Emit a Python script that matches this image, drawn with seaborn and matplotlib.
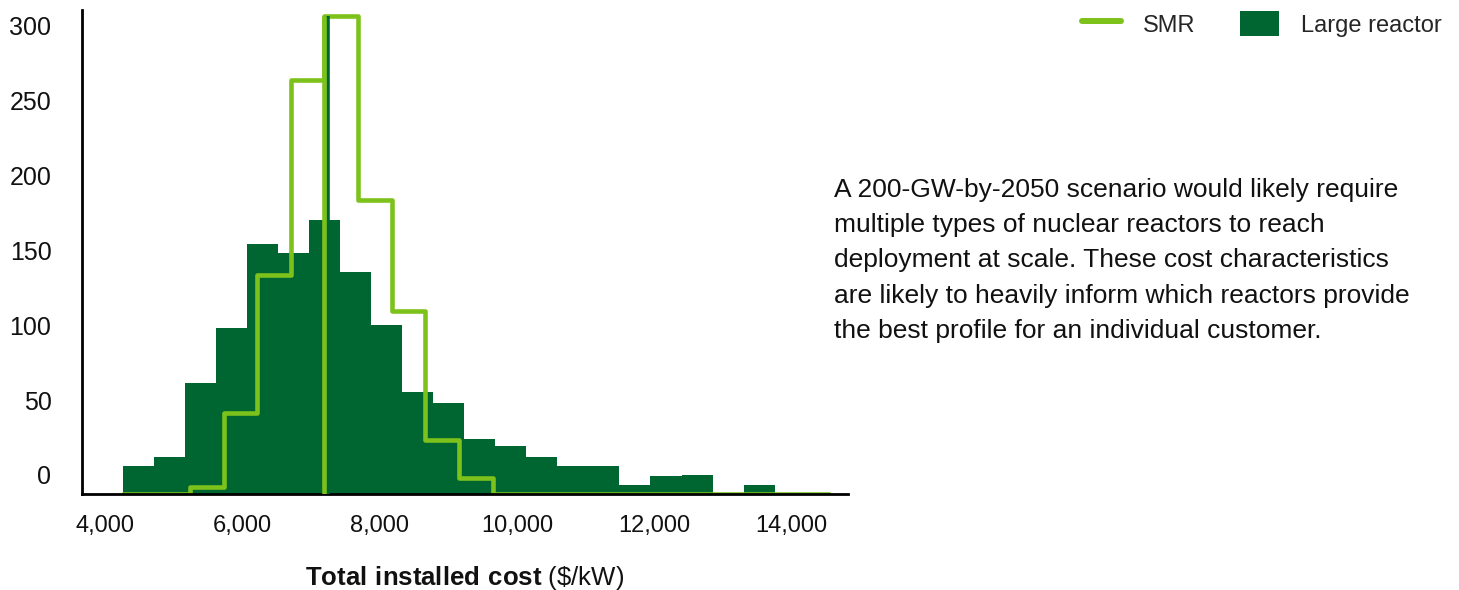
import matplotlib
matplotlib.use("Agg")
import matplotlib.pyplot as plt
import matplotlib.transforms as mtransforms
from matplotlib.lines import Line2D
from matplotlib.patches import Patch
import numpy as np
import pandas as pd
import seaborn as sns

# counts per cost bin
large_counts = [19, 25, 74, 111, 167, 161, 183, 148, 113, 68, 61,
                37, 32, 25, 19, 19, 6, 12, 13, 0, 6]
smr_counts = [0, 0, 5, 54, 146, 276, 319, 196, 122, 36, 11,
              0, 0, 0, 0, 0, 0, 0, 0, 0, 0]

# bin geometry ($/kW): both series use 21 equal bins over their own range
large_start, large_width = 4260, 452
smr_start, smr_width = 4260, 489.5

# vertical reference lines ($/kW)
smr_mark = 7197
large_mark = 7244

x_ticks = [4000, 6000, 8000, 10000, 12000, 14000]
x_tick_labels = ["4,000", "6,000", "8,000", "10,000", "12,000", "14,000"]
y_ticks = [0, 50, 100, 150, 200, 250, 300]

note_lines = [
    "A 200-GW-by-2050 scenario would likely require",
    "multiple types of nuclear reactors to reach",
    "deployment at scale. These cost characteristics",
    "are likely to heavily inform which reactors provide",
    "the best profile for an individual customer.",
]

DARK = "#006631"
LIGHT = "#7DC21B"
INK = "#111111"

sns.set_style("white")
plt.rcParams["font.family"] = ["Liberation Sans", "DejaVu Sans"]
plt.rcParams["mathtext.fontset"] = "custom"
plt.rcParams["mathtext.rm"] = "Liberation Sans"
plt.rcParams["mathtext.bf"] = "Liberation Sans:bold"

W, H = 1459, 590
fig = plt.figure(figsize=(W / 100, H / 100), dpi=100)
ax = fig.add_axes([82 / W, (H - 494) / H, (848 - 82) / W, (494 - 10) / H])

large_edges = large_start + large_width * np.arange(len(large_counts) + 1)
smr_edges = smr_start + smr_width * np.arange(len(smr_counts) + 1)
large_df = pd.DataFrame({"cost": (large_edges[:-1] + large_edges[1:]) / 2,
                         "count": large_counts})
smr_df = pd.DataFrame({"cost": (smr_edges[:-1] + smr_edges[1:]) / 2,
                       "count": smr_counts})

sns.histplot(data=large_df, x="cost", weights="count", bins=list(large_edges),
             element="bars", fill=True, color=DARK, alpha=1, linewidth=0, ax=ax)
sns.histplot(data=smr_df, x="cost", weights="count", bins=list(smr_edges),
             element="step", fill=False, color=LIGHT, linewidth=3.3, ax=ax)

peak = max(smr_counts)
ax.vlines([large_mark], 0, peak, color=DARK, linewidth=2.6, zorder=3)
ax.vlines([smr_mark], 0, peak, color=LIGHT, linewidth=3.3, zorder=4)

ax.set_xlim(3667, 14820)
ax.set_ylim(0, 322.7)
ax.set_xticks(x_ticks)
ax.set_xticklabels(x_tick_labels)
ax.set_yticks(y_ticks)
ax.tick_params(axis="both", length=0, colors=INK)
ax.tick_params(axis="x", pad=15, labelsize=17)
ax.tick_params(axis="y", pad=22, labelsize=18)

# y labels sit a bit above their gridline positions in the original
offset = mtransforms.ScaledTranslation(0, 19 / 100, fig.dpi_scale_trans)
for lbl in ax.get_yticklabels():
    lbl.set_transform(lbl.get_transform() + offset)

ax.set_ylabel("")
ax.set_xlabel(r"$\bf{Total\ installed\ cost}$ (\$/kW)", fontsize=18.5,
              color=INK, va="center")
ax.xaxis.set_label_coords(0.5, (494 - 578) / 484)

sns.despine(ax=ax)
for side in ["left", "bottom"]:
    ax.spines[side].set_linewidth(2)
    ax.spines[side].set_color("black")

handles = [Line2D([0], [0], color=LIGHT, linewidth=4.3),
           Patch(facecolor=DARK, edgecolor="none")]
fig.legend(handles, ["SMR", "Large reactor"], ncol=2, frameon=False,
           loc="center right", bbox_to_anchor=(1442 / W, (H - 24) / H),
           fontsize=17, handlelength=1.65, handleheight=1.2,
           handletextpad=0.93, columnspacing=1.9, borderpad=0, borderaxespad=0)

for i, line in enumerate(note_lines):
    fig.text(834 / W, (H - 197 - 35.2 * i) / H, line, fontsize=19,
             va="baseline", ha="left", color=INK)

fig.savefig("out.png", dpi=100)
